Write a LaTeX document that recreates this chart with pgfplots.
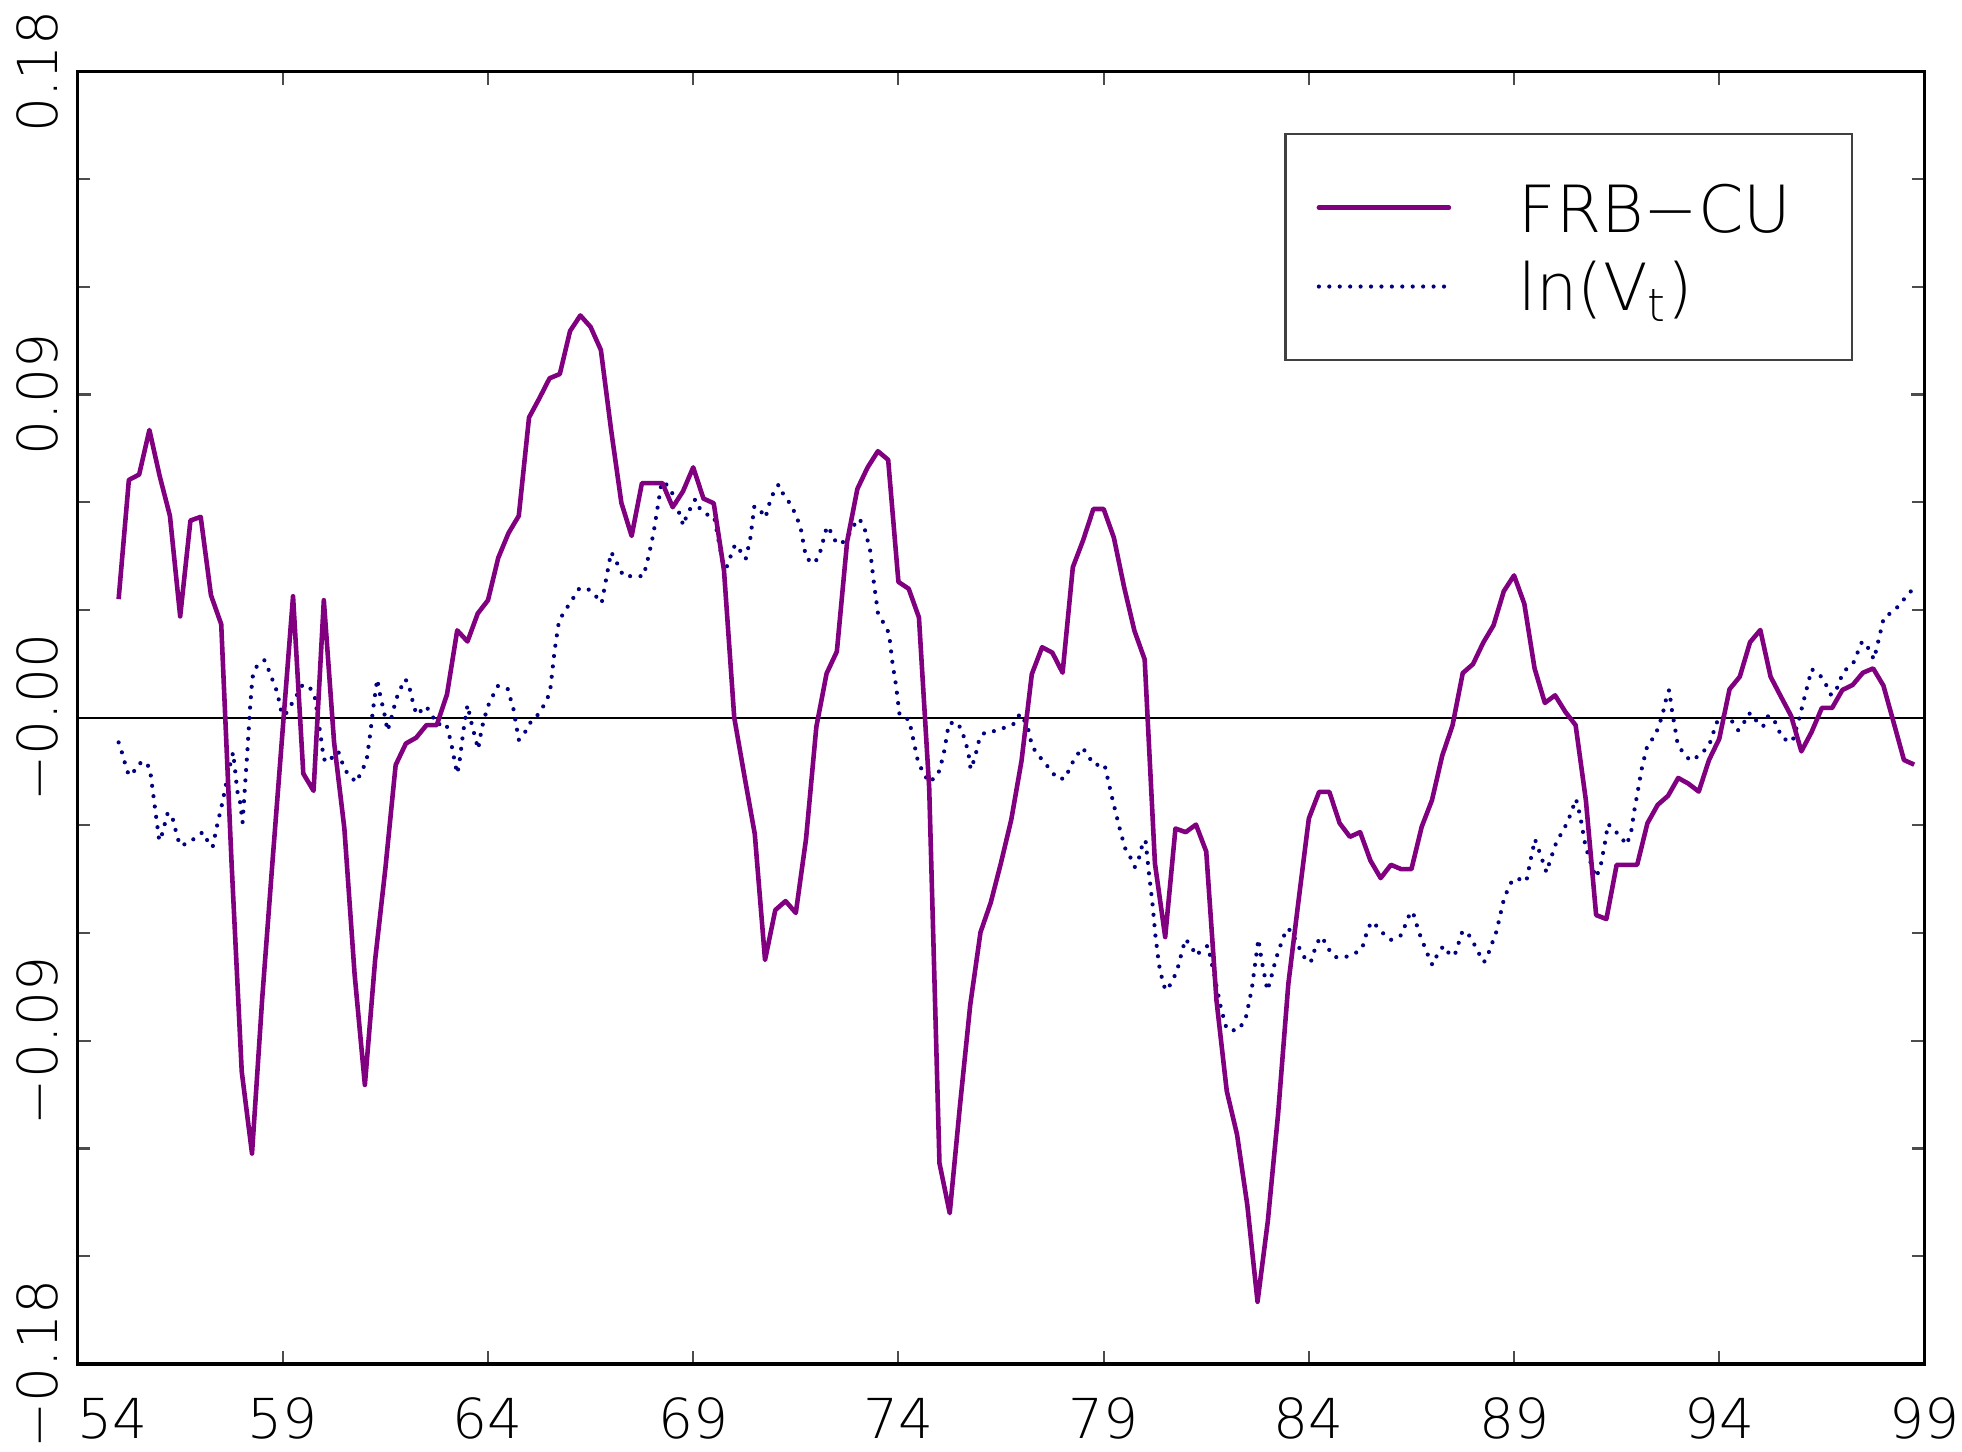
\documentclass[border=0pt]{standalone}
\usepackage{fontspec}
\setmainfont{DejaVu Sans ExtraLight}
\usepackage{pgfplots}
\pgfplotsset{compat=1.18}
\definecolor{frbpurple}{RGB}{128,0,128}
\definecolor{vnavy}{RGB}{0,0,128}
\newcommand{\tickfont}{\fontsize{13.2}{15}\selectfont}
\newcommand{\legfont}{\fontsize{15.6}{18}\selectfont}
\pgfplotstableread{
x y
55.00 0.0330
55.25 0.0662
55.50 0.0677
55.75 0.0801
56.00 0.0673
56.25 0.0562
56.50 0.0282
56.75 0.0549
57.00 0.0559
57.25 0.0341
57.50 0.0260
57.75 -0.0400
58.00 -0.0986
58.25 -0.1214
58.50 -0.0780
58.75 -0.0400
59.00 -0.0030
59.25 0.0338
59.50 -0.0156
59.75 -0.0204
60.00 0.0327
60.25 -0.0069
60.50 -0.0308
60.75 -0.0715
61.00 -0.1023
61.25 -0.0675
61.50 -0.0420
61.75 -0.0132
62.00 -0.0072
62.25 -0.0056
62.50 -0.0021
62.75 -0.0021
63.00 0.0064
63.25 0.0243
63.50 0.0212
63.75 0.0290
64.00 0.0327
64.25 0.0445
64.50 0.0514
64.75 0.0562
65.00 0.0836
65.25 0.0889
65.50 0.0945
65.75 0.0957
66.00 0.1077
66.25 0.1120
66.50 0.1088
66.75 0.1024
67.00 0.0801
67.25 0.0598
67.50 0.0506
67.75 0.0653
68.00 0.0653
68.25 0.0653
68.50 0.0586
68.75 0.0630
69.00 0.0697
69.25 0.0610
69.50 0.0597
69.75 0.0410
70.00 0.0000
70.25 -0.0164
70.50 -0.0324
70.75 -0.0675
71.00 -0.0536
71.25 -0.0511
71.50 -0.0544
71.75 -0.0337
72.00 -0.0026
72.25 0.0123
72.50 0.0184
72.75 0.0490
73.00 0.0637
73.25 0.0697
73.50 0.0742
73.75 0.0718
74.00 0.0378
74.25 0.0359
74.50 0.0279
74.75 -0.0196
75.00 -0.1241
75.25 -0.1380
75.50 -0.1080
75.75 -0.0800
76.00 -0.0598
76.25 -0.0515
76.50 -0.0404
76.75 -0.0284
77.00 -0.0120
77.25 0.0121
77.50 0.0196
77.75 0.0181
78.00 0.0125
78.25 0.0419
78.50 0.0494
78.75 0.0581
79.00 0.0581
79.25 0.0501
79.50 0.0363
79.75 0.0242
80.00 0.0162
80.25 -0.0406
80.50 -0.0611
80.75 -0.0309
81.00 -0.0319
81.25 -0.0298
81.50 -0.0373
81.75 -0.0788
82.00 -0.1040
82.25 -0.1161
82.50 -0.1357
82.75 -0.1627
83.00 -0.1403
83.25 -0.1105
83.50 -0.0742
83.75 -0.0509
84.00 -0.0281
84.25 -0.0207
84.50 -0.0207
84.75 -0.0294
85.00 -0.0332
85.25 -0.0319
85.50 -0.0398
85.75 -0.0447
86.00 -0.0410
86.25 -0.0422
86.50 -0.0422
86.75 -0.0304
87.00 -0.0230
87.25 -0.0106
87.50 -0.0022
87.75 0.0124
88.00 0.0149
88.25 0.0209
88.50 0.0257
88.75 0.0352
89.00 0.0396
89.25 0.0317
89.50 0.0137
89.75 0.0041
90.00 0.0062
90.25 0.0016
90.50 -0.0021
90.75 -0.0230
91.00 -0.0550
91.25 -0.0561
91.50 -0.0410
91.75 -0.0410
92.00 -0.0410
92.25 -0.0294
92.50 -0.0243
92.75 -0.0218
93.00 -0.0168
93.25 -0.0184
93.50 -0.0206
93.75 -0.0118
94.00 -0.0059
94.25 0.0079
94.50 0.0114
94.75 0.0210
95.00 0.0244
95.25 0.0114
95.50 0.0059
95.75 0.0005
96.00 -0.0094
96.25 -0.0040
96.50 0.0027
96.75 0.0027
97.00 0.0077
97.25 0.0091
97.50 0.0125
97.75 0.0137
98.00 0.0089
98.25 -0.0014
98.50 -0.0118
98.75 -0.0131
}\frbcu
\pgfplotstableread{
x y
55.00 -0.0069
55.08 -0.0097
55.16 -0.0129
55.24 -0.0158
55.33 -0.0160
55.45 -0.0132
55.62 -0.0121
55.76 -0.0140
55.99 -0.0343
56.06 -0.0324
56.19 -0.0268
56.29 -0.0268
56.35 -0.0297
56.49 -0.0356
56.68 -0.0351
57.05 -0.0319
57.19 -0.0348
57.29 -0.0361
57.40 -0.0300
57.52 -0.0241
57.62 -0.0184
57.73 -0.0124
57.79 -0.0097
57.84 -0.0148
57.89 -0.0204
57.96 -0.0236
58.02 -0.0292
58.07 -0.0207
58.14 -0.0089
58.20 0.0024
58.26 0.0112
58.37 0.0144
58.55 0.0160
58.67 0.0129
58.86 0.0072
58.97 0.0014
59.05 0.0006
59.20 0.0035
59.34 0.0062
59.48 0.0091
59.65 0.0086
59.78 0.0057
59.86 -0.0002
59.93 -0.0057
60.00 -0.0116
60.14 -0.0124
60.26 -0.0097
60.36 -0.0097
60.45 -0.0126
60.57 -0.0155
60.79 -0.0180
60.91 -0.0152
61.04 -0.0121
61.14 -0.0037
61.20 0.0024
61.30 0.0107
61.37 0.0064
61.49 0.0003
61.55 -0.0037
61.63 -0.0008
61.76 0.0051
61.87 0.0081
61.98 0.0107
62.06 0.0096
62.18 0.0038
62.26 0.0008
62.49 0.0032
62.63 0.0008
62.75 -0.0019
62.98 -0.0016
63.10 -0.0069
63.20 -0.0129
63.25 -0.0156
63.30 -0.0128
63.40 -0.0037
63.50 0.0035
63.61 -0.0021
63.76 -0.0088
63.85 -0.0029
63.99 0.0030
64.11 0.0059
64.24 0.0088
64.48 0.0080
64.62 0.0024
64.75 -0.0062
64.88 -0.0046
65.00 -0.0018
65.24 0.0011
65.39 0.0040
65.51 0.0070
65.62 0.0184
65.73 0.0270
65.90 0.0302
66.06 0.0330
66.22 0.0359
66.43 0.0359
66.63 0.0338
66.77 0.0319
67.00 0.0461
67.08 0.0445
67.30 0.0394
67.54 0.0394
67.79 0.0394
67.92 0.0453
68.03 0.0512
68.15 0.0598
68.23 0.0656
68.35 0.0649
68.53 0.0618
68.60 0.0590
68.76 0.0535
68.84 0.0563
69.05 0.0608
69.18 0.0578
69.35 0.0565
69.51 0.0560
69.61 0.0498
69.74 0.0418
69.82 0.0421
69.92 0.0452
70.02 0.0482
70.17 0.0461
70.28 0.0442
70.39 0.0498
70.49 0.0589
70.63 0.0578
70.76 0.0557
70.90 0.0614
71.08 0.0649
71.20 0.0621
71.40 0.0590
71.61 0.0533
71.75 0.0445
71.93 0.0429
72.06 0.0447
72.26 0.0533
72.34 0.0520
72.46 0.0493
72.60 0.0482
72.80 0.0511
72.93 0.0538
73.05 0.0554
73.18 0.0525
73.31 0.0466
73.40 0.0378
73.50 0.0292
73.64 0.0263
73.77 0.0235
73.86 0.0148
73.94 0.0091
74.03 0.0006
74.26 -0.0006
74.37 -0.0065
74.48 -0.0124
74.60 -0.0152
74.74 -0.0180
74.96 -0.0161
75.10 -0.0104
75.23 -0.0016
75.43 -0.0013
75.55 -0.0037
75.70 -0.0094
75.76 -0.0144
75.86 -0.0113
75.98 -0.0056
76.11 -0.0041
76.37 -0.0037
76.61 -0.0027
76.84 -0.0016
76.96 0.0011
77.14 -0.0021
77.26 -0.0081
77.47 -0.0113
77.68 -0.0142
77.87 -0.0170
78.06 -0.0170
78.17 -0.0142
78.30 -0.0112
78.49 -0.0084
78.63 -0.0108
78.77 -0.0132
79.02 -0.0130
79.20 -0.0220
79.38 -0.0304
79.52 -0.0363
79.67 -0.0393
79.76 -0.0416
79.87 -0.0388
79.93 -0.0360
80.02 -0.0341
80.10 -0.0429
80.19 -0.0518
80.26 -0.0605
80.35 -0.0689
80.46 -0.0746
80.54 -0.0760
80.68 -0.0732
80.79 -0.0704
80.99 -0.0617
81.13 -0.0635
81.25 -0.0663
81.41 -0.0645
81.54 -0.0635
81.70 -0.0719
81.86 -0.0810
82.00 -0.0868
82.25 -0.0872
82.45 -0.0844
82.61 -0.0756
82.77 -0.0617
82.85 -0.0676
82.99 -0.0760
83.07 -0.0729
83.20 -0.0671
83.38 -0.0611
83.48 -0.0587
83.58 -0.0596
83.70 -0.0626
83.84 -0.0658
83.97 -0.0682
84.07 -0.0676
84.15 -0.0643
84.26 -0.0615
84.33 -0.0611
84.44 -0.0639
84.64 -0.0667
84.89 -0.0667
85.16 -0.0654
85.30 -0.0642
85.45 -0.0584
85.56 -0.0568
85.76 -0.0596
86.00 -0.0619
86.25 -0.0606
86.45 -0.0549
86.53 -0.0540
86.69 -0.0600
86.89 -0.0658
87.01 -0.0689
87.14 -0.0658
87.28 -0.0636
87.47 -0.0665
87.57 -0.0656
87.74 -0.0596
87.85 -0.0596
88.01 -0.0627
88.14 -0.0656
88.27 -0.0681
88.38 -0.0655
88.57 -0.0596
88.75 -0.0507
88.85 -0.0478
88.97 -0.0450
89.16 -0.0450
89.30 -0.0456
89.40 -0.0398
89.51 -0.0339
89.63 -0.0377
89.79 -0.0431
89.87 -0.0401
90.04 -0.0344
90.20 -0.0314
90.32 -0.0286
90.51 -0.0227
90.61 -0.0273
90.74 -0.0358
90.90 -0.0416
91.00 -0.0445
91.11 -0.0413
91.21 -0.0352
91.29 -0.0296
91.55 -0.0326
91.75 -0.0354
91.86 -0.0313
91.94 -0.0252
92.03 -0.0195
92.12 -0.0137
92.25 -0.0077
92.44 -0.0050
92.61 0.0005
92.73 0.0064
92.78 0.0077
92.85 0.0018
92.94 -0.0041
92.98 -0.0070
93.12 -0.0099
93.30 -0.0120
93.54 -0.0104
93.76 -0.0075
93.93 -0.0016
94.03 0.0005
94.28 -0.0005
94.46 -0.0035
94.58 -0.0019
94.71 0.0011
94.81 0.0011
94.95 -0.0019
95.07 -0.0024
95.19 0.0004
95.32 -0.0001
95.42 -0.0030
95.56 -0.0059
95.78 -0.0067
95.93 -0.0011
96.06 0.0049
96.19 0.0107
96.25 0.0135
96.45 0.0119
96.60 0.0092
96.72 0.0064
96.82 0.0068
97.02 0.0127
97.27 0.0153
97.48 0.0212
97.59 0.0202
97.77 0.0162
97.89 0.0220
98.01 0.0279
98.26 0.0297
98.48 0.0327
98.70 0.0356
}\lnv
\begin{document}
\begin{tikzpicture}
\begin{axis}[
  scale only axis,
  width=442.8pt, height=309.9pt,
  xmin=54, xmax=99, ymin=-0.18, ymax=0.18,
  axis line style={line width=0.8pt},
  xtick={54,59,64,69,74,79,84,89,94,99},
  xticklabels={\makebox[0pt][l]{54},59,64,69,74,79,84,89,94,99},
  ytick={-0.18,-0.09,0,0.09,0.18},
  yticklabels={−0.18,−0.09,−0.00,0.09,0.18},
  minor ytick={-0.15,-0.12,-0.06,-0.03,0.03,0.06,0.12,0.15},
  tick align=inside, tick pos=both,
  major tick length=3.2pt, minor tick length=3pt,
  every tick/.style={gray!60!black, line width=0.5pt},
  xticklabel style={font=\tickfont, inner sep=0pt, anchor=north},
  xticklabel shift=8pt,
  yticklabel style={font=\tickfont, inner sep=0pt, rotate=90, anchor=south},
  yticklabel shift=4.5pt,
  clip=false,
]
\addplot[black, line width=0.45pt, forget plot] coordinates {(54,0) (99,0)};
\addplot[vnavy, line width=1.0pt, line cap=round, dash pattern=on 0pt off 2.5pt] table[x=x,y=y] {\lnv};
\addplot[frbpurple, line width=1.1pt, line join=round] table[x=x,y=y] {\frbcu};
% legend
\draw[gray!50!black, line width=0.5pt] (rel axis cs:0.654,0.9516) rectangle (rel axis cs:0.9607,0.7764);
\draw[frbpurple, line width=1.1pt, line cap=round] (rel axis cs:0.6721,0.8945) -- (rel axis cs:0.7425,0.8945);
\draw[vnavy, line width=1.0pt, line cap=round, dash pattern=on 0pt off 2.5pt] (rel axis cs:0.6721,0.8335) -- (rel axis cs:0.7425,0.8335);
\node[anchor=base west, inner sep=0pt, font=\legfont] at (rel axis cs:0.7798,0.8751) {FRB−CU};
\node[anchor=base west, inner sep=0pt, font=\legfont] at (rel axis cs:0.7798,0.8151) {ln(V\textsubscript{t})};
\end{axis}
\pgfresetboundingbox
\path[use as bounding box] ([shift={(-18.6pt,-21pt)}]current axis.south west) rectangle ([shift={(451.8pt,327pt)}]current axis.south west);
\end{tikzpicture}
\end{document}
